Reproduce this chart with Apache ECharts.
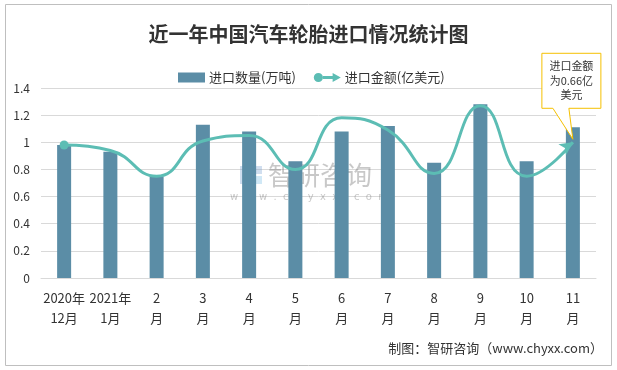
<!DOCTYPE html>
<html>
<head>
<meta charset="utf-8">
<script src="https://cdn.jsdelivr.net/npm/echarts@6/dist/echarts.min.js"></script>
<style>html,body{margin:0;padding:0;background:#fff;}#c{width:617px;height:370px;}</style>
</head>
<body>
<div id="c"></div>
<script>
var categories = ['2020年\n12月', '2021年\n1月', '2\n月', '3\n月', '4\n月', '5\n月', '6\n月', '7\n月', '8\n月', '9\n月', '10\n月', '11\n月'];
var quantity = [0.98, 0.93, 0.75, 1.13, 1.08, 0.86, 1.08, 1.12, 0.85, 1.28, 0.86, 1.11];
var amount = [0.98, 0.94, 0.75, 1.01, 1.05, 0.80, 1.18, 1.09, 0.77, 1.27, 0.75, 1.00];
var yTicks = [0, 0.2, 0.4, 0.6, 0.8, 1, 1.2, 1.4];

var FONT = '"Noto Sans CJK SC", "Microsoft YaHei", sans-serif';
var chart = echarts.init(document.getElementById('c'));

var lineData = amount.map(function (v, i) {
  if (i === 0) return { value: v, symbol: 'circle', symbolSize: 9 };
  if (i === amount.length - 1) return { value: v, symbol: 'arrow', symbolSize: [10, 13], symbolRotate: -55 };
  return { value: v, symbol: 'none' };
});

var lineIcon = 'path://M0.5,5 A4.5,4.5 0 1,1 9.5,5 A4.5,4.5 0 1,1 0.5,5 Z M9.5,3.5 L19,3.5 L19,0.5 L27,5 L19,9.5 L19,6.5 L9.5,6.5 Z';

chart.setOption({
  backgroundColor: '#fff',
  animation: false,
  textStyle: { fontFamily: FONT },
  title: {
    text: '近一年中国汽车轮胎进口情况统计图',
    left: 'center',
    top: 19,
    textStyle: { fontSize: 20, fontWeight: 'bold', color: '#333', fontFamily: FONT }
  },
  legend: {
    left: 173,
    top: 66,
    itemWidth: 27,
    itemHeight: 10,
    itemGap: 18,
    textStyle: { fontSize: 13, color: '#333', padding: [0, 0, 0, -1] },
    data: [
      { name: '进口数量(万吨)', icon: 'rect' },
      { name: '进口金额(亿美元)', icon: lineIcon }
    ]
  },
  grid: { left: 41, right: 21, top: 88, bottom: 92, containLabel: false },
  xAxis: {
    type: 'category',
    data: categories,
    axisLine: { lineStyle: { color: '#d9d9d9' } },
    axisTick: { show: false },
    axisLabel: { color: '#333', fontSize: 13, lineHeight: 20, margin: 10, interval: 0 }
  },
  yAxis: {
    type: 'value',
    min: yTicks[0],
    max: yTicks[yTicks.length - 1],
    interval: 0.2,
    axisLine: { show: false },
    axisTick: { show: false },
    splitLine: { lineStyle: { color: '#d9d9d9' } },
    axisLabel: { color: '#333', fontSize: 12, margin: 11 }
  },
  series: [
    {
      name: '进口数量(万吨)',
      type: 'bar',
      data: quantity,
      barWidth: 14,
      itemStyle: { color: '#5B8DA6' }
    },
    {
      name: '进口金额(亿美元)',
      type: 'line',
      data: lineData,
      smooth: 0.5,
      itemStyle: { color: '#5CBDB4' },
      lineStyle: { color: '#5CBDB4', width: 3 }
    }
  ]
});

var last = amount.length - 1;
var p = chart.convertToPixel({ xAxisIndex: 0, yAxisIndex: 0 }, [last, amount[last]]);
var tx = p[0], ty = p[1] - 3;
var L = tx - 31, R = tx + 28, T = ty - 86, B = ty - 31;

chart.setOption({
  graphic: [
    {
      type: 'rect', silent: true, z: 0,
      shape: { x: 5.5, y: 4.5, width: 606, height: 361 },
      style: { fill: 'none', stroke: '#bfbfbf', lineWidth: 1 }
    },
    {
      type: 'group', silent: true, z: 100,
      children: [
        { type: 'rect', shape: { x: 240, y: 166, width: 9, height: 18 }, style: { fill: 'rgba(120,160,210,0.35)' } },
        { type: 'rect', shape: { x: 251, y: 166, width: 11, height: 8 }, style: { fill: 'rgba(120,160,210,0.35)' } },
        { type: 'rect', shape: { x: 251, y: 176, width: 11, height: 8 }, style: { fill: 'rgba(120,190,230,0.35)' } },
        { type: 'text', style: { x: 268, y: 175, text: '智研咨询', fontSize: 26, fill: 'rgba(110,110,110,0.38)', textVerticalAlign: 'middle', fontFamily: FONT } },
        { type: 'text', style: { x: 309, y: 197, text: 'w  w  w  .  c  h  y  x  x  .  c  o  m', fontSize: 10, fill: 'rgba(110,110,110,0.38)', textAlign: 'center', textVerticalAlign: 'middle', fontFamily: 'DejaVu Sans' } }
      ]
    },
    {
      type: 'polygon', silent: true, z: 110,
      shape: { points: [[L, T], [R, T], [R, B], [tx - 4, B], [tx, ty], [tx - 20, B], [L, B]] },
      style: { fill: '#fff', stroke: '#F5C000', lineWidth: 1 }
    },
    {
      type: 'text', silent: true, z: 111,
      style: {
        x: (L + R) / 2, y: (T + B) / 2,
        text: '进口金额\n为0.66亿\n美元',
        fontSize: 11, lineHeight: 14.5, fill: '#333',
        textAlign: 'center', textVerticalAlign: 'middle', fontFamily: FONT
      }
    },
    {
      type: 'text', silent: true, z: 111,
      style: {
        x: 603, y: 348,
        text: '制图：智研咨询（www.chyxx.com）',
        fontSize: 13, fill: '#333',
        textAlign: 'right', textVerticalAlign: 'middle', fontFamily: FONT
      }
    }
  ]
});
</script>
</body>
</html>
